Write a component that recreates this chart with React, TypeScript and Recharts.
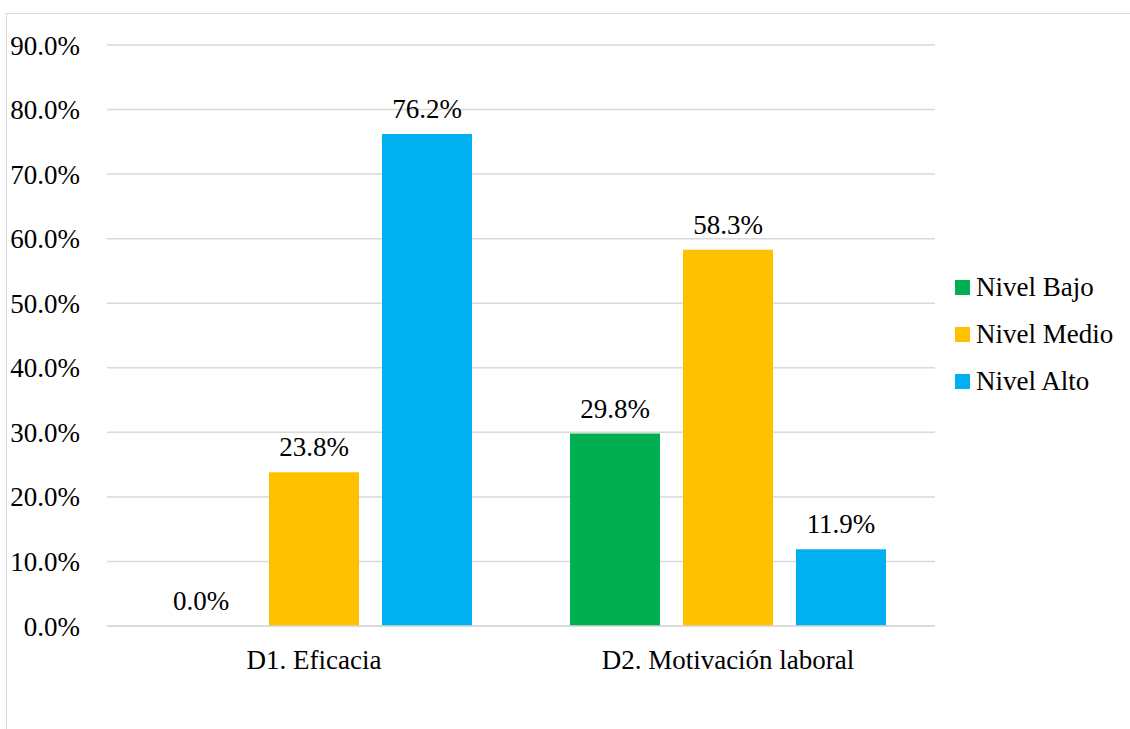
import React from 'react';
import { BarChart, Bar, XAxis, YAxis, CartesianGrid, Legend, LabelList } from 'recharts';

const categories = ['D1. Eficacia', 'D2. Motivación laboral'];
const nivelBajo = [0, 29.8];
const nivelMedio = [23.8, 58.3];
const nivelAlto = [76.2, 11.9];
const yTicks = [0, 10, 20, 30, 40, 50, 60, 70, 80, 90];

const series = [
  { key: 'bajo', name: 'Nivel Bajo', color: '#00B050' },
  { key: 'medio', name: 'Nivel Medio', color: '#FFC000' },
  { key: 'alto', name: 'Nivel Alto', color: '#00B0F0' },
];

const data = categories.map((c, i) => ({
  name: c,
  bajo: nivelBajo[i],
  medio: nivelMedio[i],
  alto: nivelAlto[i],
}));

const FONT = 'Liberation Serif';
const pct = (v: number) => `${Number(v).toFixed(1)}%`;

// keep zero-valued bars in the layout so their value label is still drawn
const keepZero = (value: number) => (value === 0 ? 0.01 : 0);

const LegendBox = () => (
  <div style={{ fontFamily: FONT, fontSize: 27, color: '#000' }}>
    {series.map((s) => (
      <div key={s.key} style={{ height: 47, display: 'flex', alignItems: 'center', whiteSpace: 'nowrap' }}>
        <span style={{ width: 15, height: 15, background: s.color, display: 'inline-block', marginRight: 6 }} />
        <span>{s.name}</span>
      </div>
    ))}
  </div>
);

export default function App() {
  return (
    <div
      style={{
        position: 'absolute',
        left: 6,
        top: 13,
        width: 1123,
        height: 715,
        borderLeft: '1px solid #d9d9d9',
        borderTop: '1px solid #d9d9d9',
        background: '#fff',
        fontFamily: FONT,
      }}
    >
      <BarChart
        width={1123}
        height={715}
        data={data}
        margin={{ top: 31, right: 25, bottom: 73, left: 10 }}
        barCategoryGap={49}
        barGap={23}
      >
        <CartesianGrid vertical={false} stroke="#d9d9d9" strokeWidth={1.5} />
        <XAxis
          dataKey="name"
          height={30}
          axisLine={{ stroke: '#d9d9d9', strokeWidth: 1.5 }}
          tickLine={false}
          tickSize={0}
          tickMargin={24}
          tick={{ fill: '#000', fontSize: 27, fontFamily: FONT }}
        />
        <YAxis
          width={90}
          domain={[0, 90]}
          ticks={yTicks}
          tickFormatter={pct}
          axisLine={false}
          tickLine={false}
          tickSize={0}
          tickMargin={27}
          tick={{ fill: '#000', fontSize: 27, fontFamily: FONT }}
        />
        <Legend
          layout="vertical"
          align="right"
          verticalAlign="middle"
          content={() => <LegendBox />}
          wrapperStyle={{ left: 948, top: 250, right: 'auto', width: 170 }}
        />
        {series.map((s) => (
          <Bar
            key={s.key}
            dataKey={s.key}
            name={s.name}
            fill={s.color}
            minPointSize={keepZero}
            isAnimationActive={false}
          >
            <LabelList
              dataKey={s.key}
              position="top"
              offset={16}
              formatter={pct}
              fill="#000"
              fontSize={27}
              fontFamily={FONT}
            />
          </Bar>
        ))}
      </BarChart>
    </div>
  );
}
